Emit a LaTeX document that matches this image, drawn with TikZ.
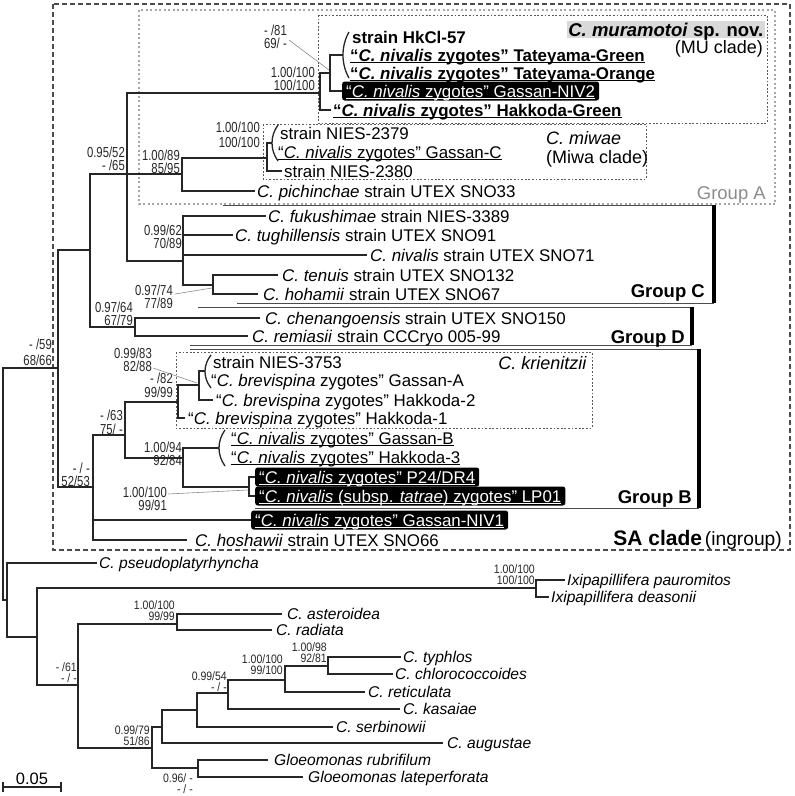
\documentclass[tikz,border=0pt]{standalone}
\usepackage{fontspec}
\setmainfont{Liberation Sans}
\newcommand{\leafsz}{\fontsize{16.9}{18}\selectfont}
\newcommand{\outsz}{\fontsize{15.6}{17}\selectfont}
\newcommand{\bsfont}{\fontsize{14.5}{15}\selectfont}
\newcommand{\bssfont}{\fontsize{12.2}{13}\selectfont}
\newcommand{\ul}[1]{\leavevmode\setbox0\hbox{#1}\rlap{\rule[-2.4pt]{\wd0}{1.1pt}}\box0}
\newcommand{\bsn}[4]{\node[bs] (#1) at (#2,#3) {\scalebox{0.78}[1]{#4}};}
\newcommand{\bso}[4]{\node[bss] (#1) at (#2,#3) {\scalebox{0.86}[1]{#4}};}
\tikzset{
  br/.style={draw=black!85, line width=1.7pt},
  lf/.style={anchor=base west, inner sep=0pt, font=\leafsz, yshift=-6pt},
  ofs/.style={anchor=base west, inner sep=0pt, font=\outsz, yshift=-5.6pt},
  bs/.style={anchor=base east, inner sep=0pt, font=\bsfont, text=black!85, yshift=-5pt},
  bss/.style={anchor=base east, inner sep=0pt, font=\bssfont, text=black!85, yshift=-4.3pt},
  blk/.style={fill=black, text=white, rounded corners=2.5pt, anchor=west, inner xsep=4pt, inner ysep=1.5pt, text height=14pt, text depth=2pt, font=\leafsz},
  lead/.style={draw=black!45, line width=0.6pt},
  grpline/.style={draw=black!70, line width=1pt},
  grpbar/.style={draw=black, line width=4.5pt},
  parenl/.style={draw=black!85, line width=1.3pt},
  sabox/.style={draw=black!70, line width=2pt, dash pattern=on 5pt off 3pt},
  gabox/.style={draw=black!35, line width=2pt, dash pattern=on 2pt off 2.5pt},
  clbox/.style={draw=black!65, line width=0.9pt, dash pattern=on 1.8pt off 1.8pt},
  grplab/.style={anchor=base east, inner sep=0pt, font=\bfseries\fontsize{18.5}{20}\selectfont},
  cladelab/.style={inner sep=0pt, font=\fontsize{18}{20}\selectfont},
}
\begin{document}
\begin{tikzpicture}[x=1pt,y=-1pt]
\useasboundingbox (0,0) rectangle (795,796);
% ---------- boxes ----------
\draw[sabox] (53,4) rectangle (790,550);
\draw[gabox] (139,10) rectangle (775,204);
\draw[clbox] (318,15) rectangle (767,123);
\draw[clbox] (263,124) rectangle (646,179);
\draw[clbox] (176,352) rectangle (592,428);
% ---------- group brackets ----------
\draw[grpline] (223,205) -- (714,205);
\draw[grpline] (237,303) -- (714,303);
\draw[grpbar] (714,205) -- (714,303);
\draw[grpline] (198,307) -- (692,307);
\draw[grpline] (190,345) -- (692,345);
\draw[grpbar] (692,307) -- (692,345);
\draw[grpline] (190,349) -- (699,349);
\draw[grpline] (255,508) -- (699,508);
\draw[grpbar] (699,349) -- (699,508);
% ---------- coordinates ----------
\coordinate (R0) at (3,484);
\coordinate (N0) at (58,368);
\coordinate (N1) at (90,250);
\coordinate (N2) at (127,174);
\coordinate (MU) at (320,93);
\coordinate (MUs) at (330,73);
\coordinate (MUp) at (343,55);
\coordinate (NIV2) at (342,91);
\coordinate (HkG) at (331,110);
\coordinate (M) at (182,174);
\coordinate (Mi) at (267,158);
\coordinate (Mip) at (272,143);
\coordinate (N2380) at (282,171);
\coordinate (pich) at (255,191);
\coordinate (C) at (183,261);
\coordinate (fuk) at (266,216);
\coordinate (tug) at (233,235);
\coordinate (niv) at (367,255);
\coordinate (TH) at (213,285);
\coordinate (ten) at (278,275);
\coordinate (hoh) at (258,294);
\coordinate (D) at (135,327);
\coordinate (chen) at (260,318);
\coordinate (rem) at (248,336);
\coordinate (NB) at (93,487);
\coordinate (B1) at (125,435);
\coordinate (K) at (178,402);
\coordinate (Ks) at (199,385);
\coordinate (Ksp) at (205,371);
\coordinate (Hk2) at (213,400);
\coordinate (Hk1) at (185,418);
\coordinate (G) at (183,458);
\coordinate (Gp) at (219,448);
\coordinate (PL) at (249,487);
\coordinate (P24) at (255,477);
\coordinate (LP01) at (255,496);
\coordinate (NIV1) at (251,520);
\coordinate (hosh) at (187,540);
\coordinate (R2) at (7,600);
\coordinate (pseudo) at (97,563);
\coordinate (R3) at (37,637);
\coordinate (Ixi) at (536,588);
\coordinate (paur) at (565,580);
\coordinate (deas) at (549,597);
\coordinate (R4) at (78,685);
\coordinate (AR) at (177,624);
\coordinate (ast) at (282,614);
\coordinate (rad) at (272,630);
\coordinate (R5) at (152,748);
\coordinate (R6) at (162,727);
\coordinate (R7) at (197,710);
\coordinate (R8) at (228,693);
\coordinate (R9) at (285,680);
\coordinate (R10) at (328,666);
\coordinate (typ) at (401,657);
\coordinate (chl) at (393,674);
\coordinate (ret) at (365,692);
\coordinate (kas) at (400,709);
\coordinate (serb) at (333,727);
\coordinate (aug) at (443,743);
\coordinate (Gl) at (198,768);
\coordinate (rub) at (268,760);
\coordinate (lat) at (303,777);
% ---------- branches ----------
\draw[br] (R0) |- (N0);
\draw[br] (R0) |- (R2);
\draw[br] (N0) |- (N1);
\draw[br] (N0) |- (NB);
\draw[br] (N1) |- (N2);
\draw[br] (N1) |- (D);
\draw[br] (N2) |- (MU);
\draw[br] (N2) |- (M);
\draw[br] (N2) |- (C);
\draw[br] (MU) |- (MUs);
\draw[br] (MU) |- (HkG);
\draw[br] (MUs) |- (MUp);
\draw[br] (MUs) |- (NIV2);
\draw[br] (M) |- (Mi);
\draw[br] (M) |- (pich);
\draw[br] (Mi) |- (Mip);
\draw[br] (Mi) |- (N2380);
\draw[br] (C) |- (fuk);
\draw[br] (C) |- (tug);
\draw[br] (C) |- (niv);
\draw[br] (C) |- (TH);
\draw[br] (TH) |- (ten);
\draw[br] (TH) |- (hoh);
\draw[br] (D) |- (chen);
\draw[br] (D) |- (rem);
\draw[br] (NB) |- (B1);
\draw[br] (NB) |- (NIV1);
\draw[br] (NB) |- (hosh);
\draw[br] (B1) |- (K);
\draw[br] (B1) |- (G);
\draw[br] (K) |- (Ks);
\draw[br] (K) |- (Hk1);
\draw[br] (Ks) |- (Ksp);
\draw[br] (Ks) |- (Hk2);
\draw[br] (G) |- (Gp);
\draw[br] (G) |- (PL);
\draw[br] (PL) |- (P24);
\draw[br] (PL) |- (LP01);
\draw[br] (R2) |- (pseudo);
\draw[br] (R2) |- (R3);
\draw[br] (R3) |- (Ixi);
\draw[br] (R3) |- (R4);
\draw[br] (Ixi) |- (paur);
\draw[br] (Ixi) |- (deas);
\draw[br] (R4) |- (AR);
\draw[br] (R4) |- (R5);
\draw[br] (AR) |- (ast);
\draw[br] (AR) |- (rad);
\draw[br] (R5) |- (R6);
\draw[br] (R5) |- (Gl);
\draw[br] (R6) |- (R7);
\draw[br] (R6) |- (aug);
\draw[br] (R7) |- (R8);
\draw[br] (R7) |- (serb);
\draw[br] (R8) |- (R9);
\draw[br] (R8) |- (kas);
\draw[br] (R9) |- (R10);
\draw[br] (R9) |- (ret);
\draw[br] (R10) |- (typ);
\draw[br] (R10) |- (chl);
\draw[br] (Gl) |- (rub);
\draw[br] (Gl) |- (lat);
% ---------- parentheses ----------
\draw[parenl] (349,32) .. controls (341,46) and (341,64) .. (349,78);
\draw[parenl] (278,125) .. controls (270,136) and (270,150) .. (278,161);
\draw[parenl] (211,355) .. controls (203,365) and (203,378) .. (211,388);
\draw[parenl] (225,430) .. controls (217,441) and (217,455) .. (225,466);
% ---------- leaf labels: MU clade ----------
\node[lf] (tHk57) at (352,37) {\textbf{strain HkCl-57}};
\node[lf] (tTG) at (350,55) {\textbf{\ul{“\textit{C. nivalis} zygotes” Tateyama-Green}}};
\node[lf] (tTO) at (350,73) {\textbf{\ul{“\textit{C. nivalis} zygotes” Tateyama-Orange}}};
\node[blk] (tNIV2) at (NIV2) {\ul{“\textit{C. nivalis} zygotes” Gassan-NIV2}};
\node[lf] (tHkG) at (333,110) {\textbf{\ul{“\textit{C. nivalis} zygotes” Hakkoda-Green}}};
% Miwa
\node[lf] (tN2379) at (280,133) {strain NIES-2379};
\node[lf] (tGC) at (278,152) {\ul{“\textit{C. nivalis} zygotes” Gassan-C}};
\node[lf] (tN2380) at (284,171) {strain NIES-2380};
\node[lf] (tpich) at (257,191) {\textit{C. pichinchae} strain UTEX SNO33};
% Group C
\node[lf] (tfuk) at (268,216) {\textit{C. fukushimae} strain NIES-3389};
\node[lf] (ttug) at (235,235) {\textit{C. tughillensis} strain UTEX SNO91};
\node[lf] (tniv) at (370,255) {\textit{C. nivalis} strain UTEX SNO71};
\node[lf] (tten) at (282,275) {\textit{C. tenuis} strain UTEX SNO132};
\node[lf] (thoh) at (263,294) {\textit{C. hohamii} strain UTEX SNO67};
% Group D
\node[lf] (tchen) at (265,318) {\textit{C. chenangoensis} strain UTEX SNO150};
\node[lf] (trem) at (252,336) {\textit{C. remiasii} strain CCCryo 005-99};
% Group B
\node[lf] (tN3753) at (213,362) {strain NIES-3753};
\node[lf] (tGA) at (211,380) {“\textit{C. brevispina} zygotes” Gassan-A};
\node[lf] (tHk2) at (216,400) {“\textit{C. brevispina} zygotes” Hakkoda-2};
\node[lf] (tHk1) at (188,418) {“\textit{C. brevispina} zygotes” Hakkoda-1};
\node[lf] (tGB) at (231,438) {\ul{“\textit{C. nivalis} zygotes” Gassan-B}};
\node[lf] (tHk3) at (231,457) {\ul{“\textit{C. nivalis} zygotes” Hakkoda-3}};
\node[blk] (tP24) at (P24) {\ul{“\textit{C. nivalis} zygotes” P24/DR4}};
\node[blk] (tLP01) at (LP01) {\ul{“\textit{C. nivalis} (subsp. \textit{tatrae}) zygotes” LP01}};
\node[blk] (tNIV1) at (NIV1) {\ul{“\textit{C. nivalis} zygotes” Gassan-NIV1}};
\node[lf] (thosh) at (195,540) {\textit{C. hoshawii} strain UTEX SNO66};
% outgroup
\node[ofs] (tpseudo) at (99,563) {\textit{C. pseudoplatyrhyncha}};
\node[ofs] (tpaur) at (567,580) {\textit{Ixipapillifera pauromitos}};
\node[ofs] (tdeas) at (551,597) {\textit{Ixipapillifera deasonii}};
\node[ofs] (tast) at (287,614) {\textit{C. asteroidea}};
\node[ofs] (trad) at (276,630) {\textit{C. radiata}};
\node[ofs] (ttyp) at (403,657) {\textit{C. typhlos}};
\node[ofs] (tchl) at (395,674) {\textit{C. chlorococcoides}};
\node[ofs] (tret) at (368,692) {\textit{C. reticulata}};
\node[ofs] (tkas) at (403,709) {\textit{C. kasaiae}};
\node[ofs] (tserb) at (336,727) {\textit{C. serbinowii}};
\node[ofs] (taug) at (447,743) {\textit{C. augustae}};
\node[ofs] (trub) at (274,760) {\textit{Gloeomonas rubrifilum}};
\node[ofs] (tlat) at (308,777) {\textit{Gloeomonas lateperforata}};
% ---------- support values ----------
\bsn{sMUsa}{287}{30}{- /81}
\bsn{sMUsb}{287}{43}{69/ -}
\bsn{sMUa}{315}{72}{1.00/100}
\bsn{sMUb}{315}{85}{100/100}
\bsn{sMia}{260}{127}{1.00/100}
\bsn{sMib}{260}{142}{100/100}
\bsn{sMa}{180}{155}{1.00/89}
\bsn{sMb}{180}{168}{85/95}
\bsn{sN2a}{125}{152}{0.95/52}
\bsn{sN2b}{125}{165}{- /65}
\bsn{sCa}{182}{230}{0.99/62}
\bsn{sCb}{182}{243}{70/89}
\bsn{sTHa}{173}{290}{0.97/74}
\bsn{sTHb}{173}{303}{77/89}
\bsn{sDa}{133}{307}{0.97/64}
\bsn{sDb}{133}{320}{67/79}
\bsn{sN0a}{52}{344}{- /59}
\bsn{sN0b}{52}{360}{68/66}
\bsn{sKsa}{152}{353}{0.99/83}
\bsn{sKsb}{152}{366}{82/88}
\bsn{sKa}{173}{378}{- /82}
\bsn{sKb}{173}{392}{99/99}
\bsn{sB1a}{123}{415}{- /63}
\bsn{sB1b}{123}{429}{75/ -}
\bsn{sGa}{182}{447}{1.00/94}
\bsn{sGb}{182}{460}{92/84}
\bsn{sPLa}{167}{492}{1.00/100}
\bsn{sPLb}{167}{505}{99/91}
\bsn{sNBa}{90}{468}{- / -}
\bsn{sNBb}{90}{481}{52/53}
\bso{sIxia}{535}{569}{1.00/100}
\bso{sIxib}{535}{580}{100/100}
\bso{sR4a}{77}{667}{- /61}
\bso{sR4b}{77}{678}{- / -}
\bso{sARa}{175}{605}{1.00/100}
\bso{sARb}{175}{616}{99/99}
\bso{sR5a}{150}{730}{0.99/79}
\bso{sR5b}{150}{741}{51/86}
\bso{sR8a}{227}{676}{0.99/54}
\bso{sR8b}{227}{687}{- / -}
\bso{sR9a}{283}{659}{1.00/100}
\bso{sR9b}{283}{670}{99/100}
\bso{sR10a}{327}{647}{1.00/98}
\bso{sR10b}{327}{658}{92/81}
\bso{sGla}{193}{778}{0.96/ -}
\bso{sGlb}{193}{789}{- / -}
% ---------- leader lines ----------
\coordinate (lMUs) at (289,40);
\coordinate (eMUs) at (329,70);
\coordinate (lTH) at (175,294);
\coordinate (eTH) at (212,288);
\coordinate (lKs) at (153,368);
\coordinate (eKs) at (197,383);
\coordinate (lPL) at (168,494);
\coordinate (ePL) at (248,490);
\draw[lead] (lMUs) -- (eMUs);
\draw[lead] (lTH) -- (eTH);
\draw[lead] (lKs) -- (eKs);
\draw[lead] (lPL) -- (ePL);
% ---------- clade and group labels ----------
\node[cladelab, anchor=base east, fill=black!15, inner sep=1.5pt, text depth=0.5pt, font=\bfseries\fontsize{18.5}{20}\selectfont] (lmura) at (765,36) {\textit{C. muramotoi} sp. nov.};
\node[cladelab, anchor=base east] (lmu) at (763,53) {(MU clade)};
\node[cladelab, anchor=base west] (lmiw) at (546,144) {\textit{C. miwae}};
\node[cladelab, anchor=base west] (lmiwc) at (546,163) {(Miwa clade)};
\node[cladelab, anchor=base east] (lkri) at (587,369) {\textit{C. krienitzii}};
\node[grplab, font=\fontsize{18.5}{20}\selectfont, text=black!45] (gA) at (766,199) {Group A};
\node[grplab] (gC) at (705,297) {Group C};
\node[grplab] (gD) at (685,343) {Group D};
\node[grplab] (gB) at (692,503) {Group B};
\node[anchor=base east, inner sep=0pt] (gSA) at (782,545) {{\fontsize{21}{22}\selectfont\textbf{SA clade}} {\fontsize{19.2}{21}\selectfont(ingroup)}};
% ---------- scale bar ----------
\coordinate (sbL) at (3,787);
\coordinate (sbR) at (61,787);
\draw[br, line width=1.3pt] (sbL) -- (sbR);
\draw[br, line width=1.3pt] ([yshift=5pt]sbL) -- ([yshift=-5pt]sbL);
\draw[br, line width=1.3pt] ([yshift=5pt]sbR) -- ([yshift=-5pt]sbR);
\node[anchor=base, inner sep=0pt, font=\fontsize{16.5}{17}\selectfont] (sbt) at (32,784) {0.05};
\end{tikzpicture}
\end{document}
